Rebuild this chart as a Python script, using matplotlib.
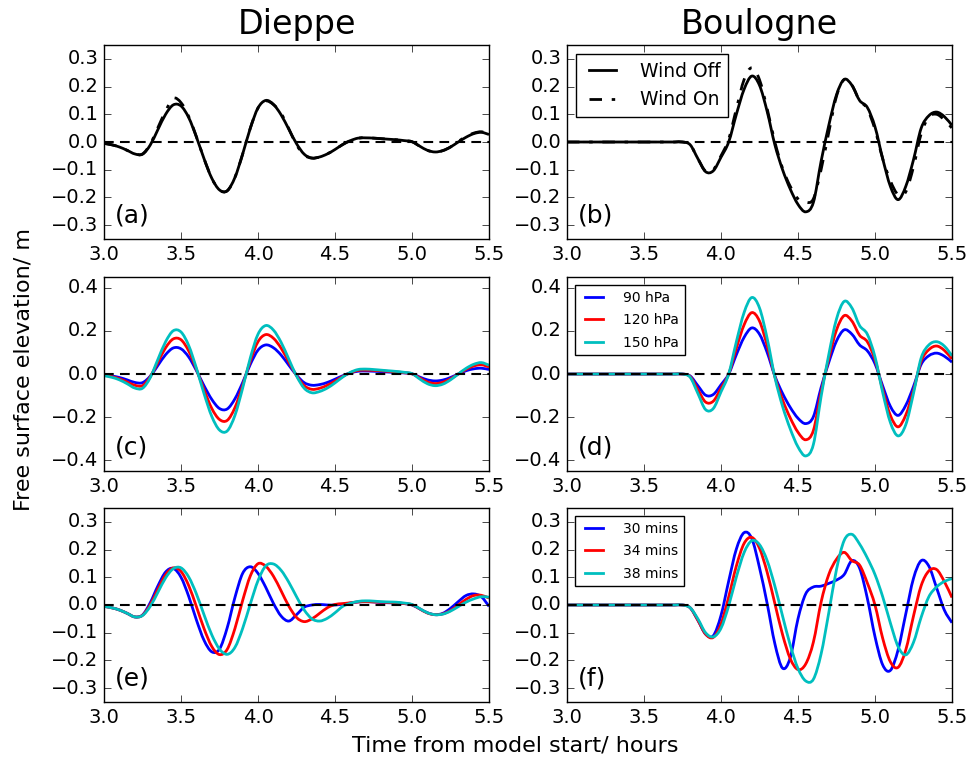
import numpy as np
import matplotlib
matplotlib.use('Agg')
import matplotlib.pyplot as plt
from matplotlib.path import Path
from matplotlib.patches import PathPatch

plt.style.use('classic')
plt.rcParams['figure.facecolor'] = 'white'
plt.rcParams['savefig.facecolor'] = 'white'
plt.rcParams['lines.scale_dashes'] = False
plt.rcParams['font.family'] = ['DejaVu Sans']

# model output time, hours from start (every 3 minutes)
t = np.linspace(3.0, 5.5, 51)

# (a) Dieppe, wind off / on
dieppe_wind_off = [-0.005, -0.010, -0.018, -0.030, -0.043, -0.044, -0.011, 0.045, 0.100, 0.134,
                   0.130, 0.088, 0.018, -0.061, -0.131, -0.173, -0.176, -0.128, -0.044, 0.050,
                   0.123, 0.150, 0.136, 0.098, 0.046, -0.006, -0.044, -0.058, -0.054, -0.043,
                   -0.027, -0.009, 0.005, 0.014, 0.015, 0.014, 0.012, 0.010, 0.008, 0.005,
                   0.001, -0.015, -0.030, -0.036, -0.031, -0.018, 0.000, 0.017, 0.030, 0.035, 0.027]
dieppe_wind_on = [-0.005, -0.010, -0.018, -0.030, -0.043, -0.043, -0.008, 0.052, 0.112, 0.158,
                  0.142, 0.092, 0.019, -0.061, -0.131, -0.173, -0.176, -0.128, -0.044, 0.050,
                  0.123, 0.148, 0.135, 0.103, 0.048, -0.010, -0.047, -0.058, -0.054, -0.043,
                  -0.027, -0.009, 0.005, 0.014, 0.015, 0.014, 0.012, 0.010, 0.008, 0.005,
                  0.001, -0.015, -0.030, -0.036, -0.031, -0.018, 0.002, 0.019, 0.032, 0.037, 0.030]

# (b) Boulogne, wind off / on
boulogne_wind_off = [0.0, 0.0, 0.0, 0.0, 0.0, 0.0, 0.0, 0.0, 0.0, 0.0,
                     0.0, 0.0, 0.0, 0.0, 0.0, 0.0, -0.010, -0.060, -0.107, -0.104,
                     -0.055, 0.000, 0.100, 0.190, 0.238, 0.205, 0.110, -0.010, -0.100, -0.170,
                     -0.225, -0.252, -0.218, -0.070, 0.060, 0.170, 0.226, 0.205, 0.150, 0.125,
                     0.055, -0.060, -0.160, -0.208, -0.160, -0.064, 0.050, 0.095, 0.108, 0.092, 0.060]
boulogne_wind_on = [0.0, 0.0, 0.0, 0.0, 0.0, 0.0, 0.0, 0.0, 0.0, 0.0,
                    0.0, 0.0, 0.0, 0.0, 0.0, 0.0, -0.010, -0.060, -0.105, -0.100,
                    -0.050, 0.010, 0.120, 0.225, 0.268, 0.225, 0.120, 0.000, -0.095, -0.160,
                    -0.205, -0.218, -0.205, -0.100, 0.035, 0.165, 0.225, 0.205, 0.150, 0.120,
                    0.045, -0.060, -0.140, -0.190, -0.180, -0.090, 0.030, 0.090, 0.100, 0.080, 0.050]

# (c) Dieppe, pressure drop
dieppe_90hpa = [-0.005, -0.009, -0.016, -0.027, -0.039, -0.040, -0.010, 0.040, 0.090, 0.121,
                0.117, 0.079, 0.016, -0.055, -0.118, -0.160, -0.162, -0.115, -0.040, 0.045,
                0.111, 0.135, 0.122, 0.088, 0.041, -0.005, -0.040, -0.052, -0.049, -0.039,
                -0.024, -0.008, 0.005, 0.013, 0.014, 0.013, 0.011, 0.009, 0.007, 0.005,
                0.001, -0.014, -0.027, -0.032, -0.028, -0.016, 0.000, 0.015, 0.024, 0.027, 0.021]
dieppe_120hpa = [-0.006, -0.012, -0.022, -0.037, -0.052, -0.054, -0.013, 0.055, 0.122, 0.163,
                 0.159, 0.107, 0.022, -0.074, -0.160, -0.211, -0.215, -0.156, -0.054, 0.061,
                 0.150, 0.183, 0.166, 0.120, 0.056, -0.007, -0.054, -0.071, -0.066, -0.052,
                 -0.033, -0.011, 0.006, 0.017, 0.018, 0.017, 0.015, 0.012, 0.010, 0.006,
                 0.001, -0.018, -0.037, -0.044, -0.038, -0.022, 0.000, 0.021, 0.037, 0.043, 0.033]
dieppe_150hpa = [-0.008, -0.015, -0.027, -0.045, -0.065, -0.066, -0.017, 0.068, 0.150, 0.201,
                 0.195, 0.132, 0.027, -0.092, -0.197, -0.260, -0.264, -0.192, -0.066, 0.075,
                 0.185, 0.225, 0.204, 0.147, 0.069, -0.009, -0.066, -0.087, -0.081, -0.065,
                 -0.041, -0.014, 0.008, 0.021, 0.023, 0.021, 0.018, 0.015, 0.012, 0.008,
                 0.002, -0.023, -0.045, -0.054, -0.047, -0.027, 0.000, 0.026, 0.045, 0.053, 0.041]

# (d) Boulogne, pressure drop
boulogne_90hpa = [0.0, 0.0, 0.0, 0.0, 0.0, 0.0, 0.0, 0.0, 0.0, 0.0,
                  0.0, 0.0, 0.0, 0.0, 0.0, 0.0, -0.009, -0.054, -0.098, -0.095,
                  -0.050, 0.000, 0.090, 0.170, 0.214, 0.185, 0.100, -0.009, -0.090, -0.155,
                  -0.205, -0.230, -0.198, -0.063, 0.054, 0.153, 0.205, 0.185, 0.135, 0.108,
                  0.048, -0.055, -0.150, -0.192, -0.145, -0.058, 0.045, 0.085, 0.097, 0.083, 0.055]
boulogne_120hpa = [0.0, 0.0, 0.0, 0.0, 0.0, 0.0, 0.0, 0.0, 0.0, 0.0,
                   0.0, 0.0, 0.0, 0.0, 0.0, 0.0, -0.012, -0.072, -0.130, -0.126,
                   -0.066, 0.000, 0.120, 0.228, 0.285, 0.246, 0.132, -0.012, -0.120, -0.204,
                   -0.270, -0.305, -0.262, -0.084, 0.072, 0.204, 0.271, 0.246, 0.180, 0.150,
                   0.066, -0.072, -0.192, -0.245, -0.190, -0.077, 0.060, 0.113, 0.130, 0.110, 0.070]
boulogne_150hpa = [0.0, 0.0, 0.0, 0.0, 0.0, 0.0, 0.0, 0.0, 0.0, 0.0,
                   0.0, 0.0, 0.0, 0.0, 0.0, 0.0, -0.015, -0.090, -0.165, -0.160,
                   -0.083, 0.000, 0.150, 0.285, 0.355, 0.307, 0.165, -0.015, -0.150, -0.255,
                   -0.338, -0.380, -0.327, -0.105, 0.090, 0.255, 0.337, 0.307, 0.225, 0.185,
                   0.080, -0.085, -0.225, -0.287, -0.235, -0.090, 0.075, 0.135, 0.150, 0.130, 0.085]

# (e) Dieppe, propagation time
dieppe_30min = [-0.005, -0.010, -0.018, -0.030, -0.043, -0.036, 0.008, 0.069, 0.119, 0.132,
                0.100, 0.031, -0.054, -0.128, -0.169, -0.159, -0.082, 0.027, 0.114, 0.138,
                0.114, 0.064, 0.006, -0.040, -0.058, -0.035, -0.008, 0.000, 0.002, 0.000,
                0.000, 0.003, 0.007, 0.011, 0.012, 0.011, 0.009, 0.008, 0.007, 0.005,
                0.000, -0.014, -0.028, -0.035, -0.030, -0.012, 0.012, 0.034, 0.040, 0.030, -0.005]
dieppe_34min = [-0.005, -0.010, -0.018, -0.030, -0.043, -0.037, 0.001, 0.057, 0.109, 0.134,
                0.121, 0.070, -0.006, -0.086, -0.150, -0.179, -0.160, -0.085, 0.016, 0.105,
                0.149, 0.140, 0.104, 0.051, -0.004, -0.045, -0.060, -0.050, -0.030, -0.010,
                0.002, 0.005, 0.008, 0.011, 0.012, 0.011, 0.010, 0.009, 0.008, 0.005,
                0.001, -0.014, -0.029, -0.035, -0.032, -0.020, 0.000, 0.020, 0.034, 0.035, 0.025]
dieppe_38min = [-0.005, -0.010, -0.018, -0.030, -0.043, -0.038, -0.005, 0.046, 0.098, 0.131,
                0.134, 0.101, 0.040, -0.036, -0.108, -0.159, -0.178, -0.153, -0.085, 0.004,
                0.088, 0.141, 0.148, 0.125, 0.082, 0.030, -0.018, -0.050, -0.058, -0.048,
                -0.028, -0.005, 0.006, 0.013, 0.015, 0.014, 0.012, 0.011, 0.010, 0.007,
                0.002, -0.013, -0.028, -0.035, -0.033, -0.022, -0.006, 0.010, 0.022, 0.030, 0.028]

# (f) Boulogne, propagation time
boulogne_30min = [0.0, 0.0, 0.0, 0.0, 0.0, 0.0, 0.0, 0.0, 0.0, 0.0,
                  0.0, 0.0, 0.0, 0.0, 0.0, 0.0, -0.010, -0.055, -0.105, -0.111,
                  -0.038, 0.086, 0.202, 0.261, 0.240, 0.135, 0.005, -0.140, -0.228, -0.190,
                  -0.050, 0.040, 0.065, 0.068, 0.078, 0.090, 0.110, 0.160, 0.133, 0.025,
                  -0.114, -0.216, -0.236, -0.162, -0.032, 0.096, 0.160, 0.140, 0.062, -0.018, -0.064]
boulogne_34min = [0.0, 0.0, 0.0, 0.0, 0.0, 0.0, 0.0, 0.0, 0.0, 0.0,
                  0.0, 0.0, 0.0, 0.0, 0.0, 0.0, -0.010, -0.055, -0.105, -0.117,
                  -0.069, 0.029, 0.141, 0.222, 0.244, 0.205, 0.118, 0.005, -0.107, -0.194,
                  -0.233, -0.213, -0.134, 0.010, 0.110, 0.165, 0.190, 0.160, 0.144, 0.080,
                  0.000, -0.120, -0.205, -0.225, -0.162, -0.040, 0.070, 0.123, 0.128, 0.085, 0.027]
boulogne_38min = [0.0, 0.0, 0.0, 0.0, 0.0, 0.0, 0.0, 0.0, 0.0, 0.0,
                  0.0, 0.0, 0.0, 0.0, 0.0, 0.0, -0.010, -0.050, -0.100, -0.115,
                  -0.084, -0.003, 0.101, 0.189, 0.232, 0.218, 0.160, 0.068, -0.040, -0.145,
                  -0.229, -0.274, -0.268, -0.177, -0.028, 0.128, 0.233, 0.255, 0.220, 0.170,
                  0.110, 0.030, -0.065, -0.150, -0.180, -0.135, -0.044, 0.030, 0.065, 0.085, 0.095]

pressure_labels = ['90 hPa', '120 hPa', '150 hPa']
speed_labels = ['30 mins', '34 mins', '38 mins']
colors = ['b', 'r', 'c']
dashdot = (0, (9, 7, 2.5, 7))


def smooth_line(ax, x, y, color='k', lw=2, ls='-', label=None):
    # draw the sampled series as a smooth bezier path through every sample
    x = np.asarray(x, float)
    y = np.asarray(y, float)
    xp = np.concatenate([[x[0]], x, [x[-1]]])
    yp = np.concatenate([[y[0]], y, [y[-1]]])
    verts = [(x[0], y[0])]
    codes = [Path.MOVETO]
    for i in range(len(x) - 1):
        c1 = (xp[i + 1] + (xp[i + 2] - xp[i]) / 6.0, yp[i + 1] + (yp[i + 2] - yp[i]) / 6.0)
        c2 = (xp[i + 2] - (xp[i + 3] - xp[i + 1]) / 6.0, yp[i + 2] - (yp[i + 3] - yp[i + 1]) / 6.0)
        verts += [c1, c2, (xp[i + 2], yp[i + 2])]
        codes += [Path.CURVE4] * 3
    patch = PathPatch(Path(verts, codes), fill=False, edgecolor=color, lw=lw,
                      linestyle=ls, joinstyle='round', capstyle='butt')
    ax.add_patch(patch)
    # legend handle
    ax.plot([], [], color=color, lw=lw, linestyle=ls, label=label)


fig = plt.figure(figsize=(9.73, 7.58), dpi=100)

lefts = [0.1069, 0.5827]
bottoms = [0.6847, 0.3786, 0.0739]
w, h = 0.3957, 0.2559

axes = {}
for r, b in enumerate(bottoms):
    for c, l in enumerate(lefts):
        axes[(r, c)] = fig.add_axes([l, b, w, h])


def setup(ax, lim, yticks, label):
    ax.axhline(0, color='k', ls='--', lw=1.5, dashes=(7, 4.5), zorder=5)
    ax.set_xlim(3.0, 5.5)
    ax.set_xticks([3.0, 3.5, 4.0, 4.5, 5.0, 5.5])
    ax.set_ylim(-lim, lim)
    ax.set_yticks(yticks)
    ax.tick_params(labelsize=14, length=5, direction='in', top=True, right=True)
    ax.text(0.028, 0.06, label, transform=ax.transAxes, fontsize=18, va='bottom')


small_ticks = [-0.3, -0.2, -0.1, 0.0, 0.1, 0.2, 0.3]
big_ticks = [-0.4, -0.2, 0.0, 0.2, 0.4]

# row 1: wind
ax = axes[(0, 0)]
smooth_line(ax, t, dieppe_wind_off, 'k')
smooth_line(ax, t, dieppe_wind_on, 'k', ls=dashdot)
setup(ax, 0.35, small_ticks, '(a)')
ax.set_title('Dieppe', fontsize=24, pad=8)

ax = axes[(0, 1)]
smooth_line(ax, t, boulogne_wind_off, 'k', label='Wind Off')
smooth_line(ax, t, boulogne_wind_on, 'k', ls=dashdot, label='Wind On')
setup(ax, 0.35, small_ticks, '(b)')
ax.set_title('Boulogne', fontsize=24, pad=8)
ax.legend(loc='upper left', fontsize=13.5, handlelength=2.0, handletextpad=1.0,
          borderaxespad=0.5)

# row 2: pressure
ax = axes[(1, 0)]
for y, col in zip([dieppe_90hpa, dieppe_120hpa, dieppe_150hpa], colors):
    smooth_line(ax, t, y, col)
setup(ax, 0.45, big_ticks, '(c)')

ax = axes[(1, 1)]
for y, col, lab in zip([boulogne_90hpa, boulogne_120hpa, boulogne_150hpa], colors, pressure_labels):
    smooth_line(ax, t, y, col, label=lab)
setup(ax, 0.45, big_ticks, '(d)')
ax.legend(loc='upper left', fontsize=10, handlelength=1.9, handletextpad=1.15,
          labelspacing=0.6, borderaxespad=0.6)

# row 3: propagation time
ax = axes[(2, 0)]
for y, col in zip([dieppe_30min, dieppe_34min, dieppe_38min], colors):
    smooth_line(ax, t, y, col)
setup(ax, 0.35, small_ticks, '(e)')

ax = axes[(2, 1)]
for y, col, lab in zip([boulogne_30min, boulogne_34min, boulogne_38min], colors, speed_labels):
    smooth_line(ax, t, y, col, label=lab)
setup(ax, 0.35, small_ticks, '(f)')
ax.legend(loc='upper left', fontsize=10, handlelength=1.9, handletextpad=1.15,
          labelspacing=0.6, borderaxespad=0.6)

fig.text(0.024, 0.512, 'Free surface elevation/ m', rotation=90, fontsize=16,
         ha='center', va='center')
fig.text(0.53, 0.016, 'Time from model start/ hours', fontsize=16,
         ha='center', va='center')

fig.savefig('out.png', dpi=100)
